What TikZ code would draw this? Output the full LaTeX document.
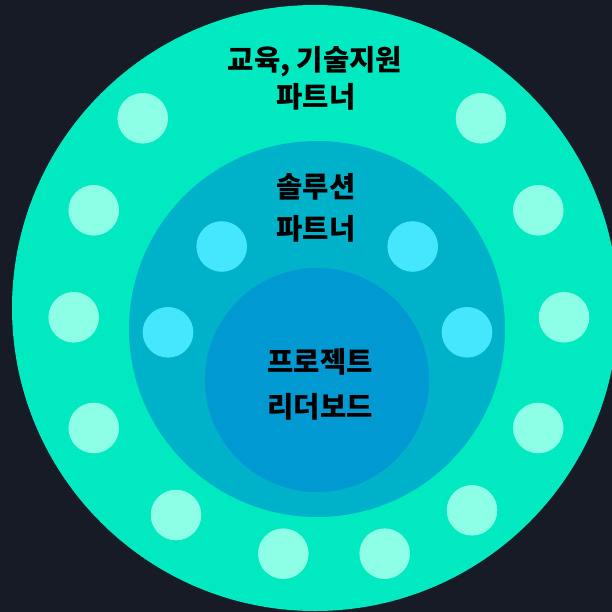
\documentclass[tikz,border=0pt]{standalone}
\usepackage{fontspec}
\newfontfamily\kr{Noto Sans CJK KR}
\definecolor{bg}{HTML}{171B26}
\definecolor{ring}{HTML}{00E9C1}
\definecolor{ringdot}{HTML}{8CFFE6}
\definecolor{mid}{HTML}{00B2C9}
\definecolor{middot}{HTML}{45E6FF}
\definecolor{core}{HTML}{0099D1}
\begin{document}
\begin{tikzpicture}[x=1pt, y=-1pt,
  lbl/.style={font=\kr\bfseries\fontsize{28.6}{32}\selectfont, text=black, inner sep=0pt}]
\fill[bg] (0,0) rectangle (612,612);
\useasboundingbox (0,0) rectangle (612,612);
\begin{scope}
\clip (0,0) rectangle (612,612);
\fill[ring] (315,308) circle[radius=303];
\end{scope}
\foreach \p in {(142.7,118.3),(481,118.3),(93.7,210.3),(538.3,210.3),(73.7,317.3),(564,317.3),(93.7,428),(538.3,428),(176,515),(472,510.3),(283.3,553.7),(384.7,553.7)}
  \fill[ringdot] \p circle[radius=25.3];
\fill[mid] (317,329) circle[radius=188];
\foreach \p in {(221.7,246.5),(412.7,246.5),(168,332.3),(467,332.3)}
  \fill[middot] \p circle[radius=25.3];
\fill[core] (317,380) circle[radius=112];
\node[lbl] (edu) at (315,62) {교육, 기술지원};
\node[lbl] (edup) at (316,96.5) {파트너};
\node[lbl] (sol) at (316,187) {솔루션};
\node[lbl] (solp) at (316,229) {파트너};
\node[lbl] (prj) at (320,362) {프로젝트};
\node[lbl] (lead) at (320,407) {리더보드};
\end{tikzpicture}
\end{document}
